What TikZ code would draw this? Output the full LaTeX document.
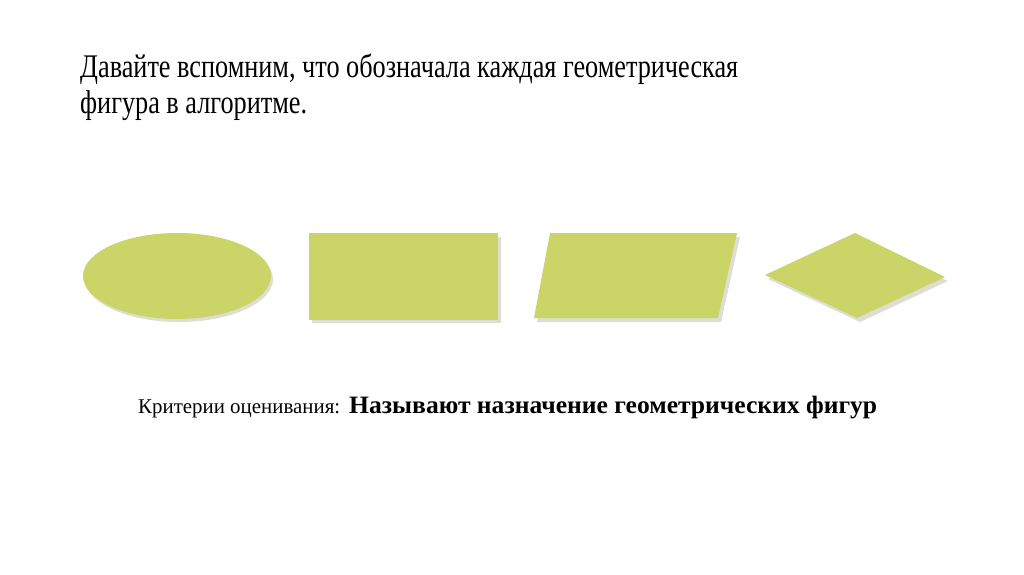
\documentclass[tikz,border=0pt]{standalone}
\usepackage{fontspec}
\setmainfont{Liberation Serif}
\usepackage{graphicx}
\usetikzlibrary{shapes.geometric}
\definecolor{shapefill}{RGB}{203,212,102}
\definecolor{shadowc}{RGB}{222,222,212}
\newlength\Lone
\begin{document}
\settowidth\Lone{\fontsize{33}{38}\selectfont Давайте вспомним, что обозначала каждая геометрическая}%
\pgfmathsetmacro\sx{658/\Lone}%
\begin{tikzpicture}[x=1pt,y=-1pt,
  shp/.style={fill=shapefill,draw=none},
  shd/.style={fill=shadowc,draw=none}]
\useasboundingbox[fill=white] (0,0) rectangle (1024,574);
\node[anchor=base west,inner sep=0pt] (t1) at (80,77) {\scalebox{\sx}[1]{\fontsize{33}{38}\selectfont Давайте вспомним, что обозначала каждая геометрическая}};
\node[anchor=base west,inner sep=0pt] (t2) at (80,113) {\scalebox{\sx}[1]{\fontsize{33}{38}\selectfont фигура в алгоритме.}};
% shapes: shadows
\fill[shd] (179,279) ellipse [x radius=94, y radius=43];
\fill[shd] (312,237) rectangle (501,323);
\fill[shd] (553,237) -- (740,237) -- (721,322) -- (537,322) -- cycle;
\fill[shd] (768,279) -- (858,237) -- (948,281) -- (860,322) -- cycle;
% shapes
\node[shp,ellipse,minimum width=188pt,minimum height=86pt,inner sep=0pt] (ell) at (177,276) {};
\node[shp,rectangle,minimum width=189pt,minimum height=87pt,inner sep=0pt] (rec) at (403,276.5) {};
\fill[shp] (550,233) coordinate (p1) -- (737,233) coordinate (p2) -- (718,318) coordinate (p3) -- (534,318) coordinate (p4) -- cycle;
\fill[shp] (765,275) coordinate (d1) -- (855,233) coordinate (d2) -- (945,277) coordinate (d3) -- (857,318) coordinate (d4) -- cycle;
% bottom text
\node[anchor=base west,inner sep=0pt] (crit) at (138,413) {\resizebox{202pt}{\height}{\fontsize{21}{24}\selectfont Критерии оценивания:}};
\node[anchor=base west,inner sep=0pt] (goal) at (349,413) {\resizebox{528pt}{\height}{\fontsize{25}{28}\selectfont\bfseries Называют назначение геометрических фигур}};
\end{tikzpicture}
\end{document}
